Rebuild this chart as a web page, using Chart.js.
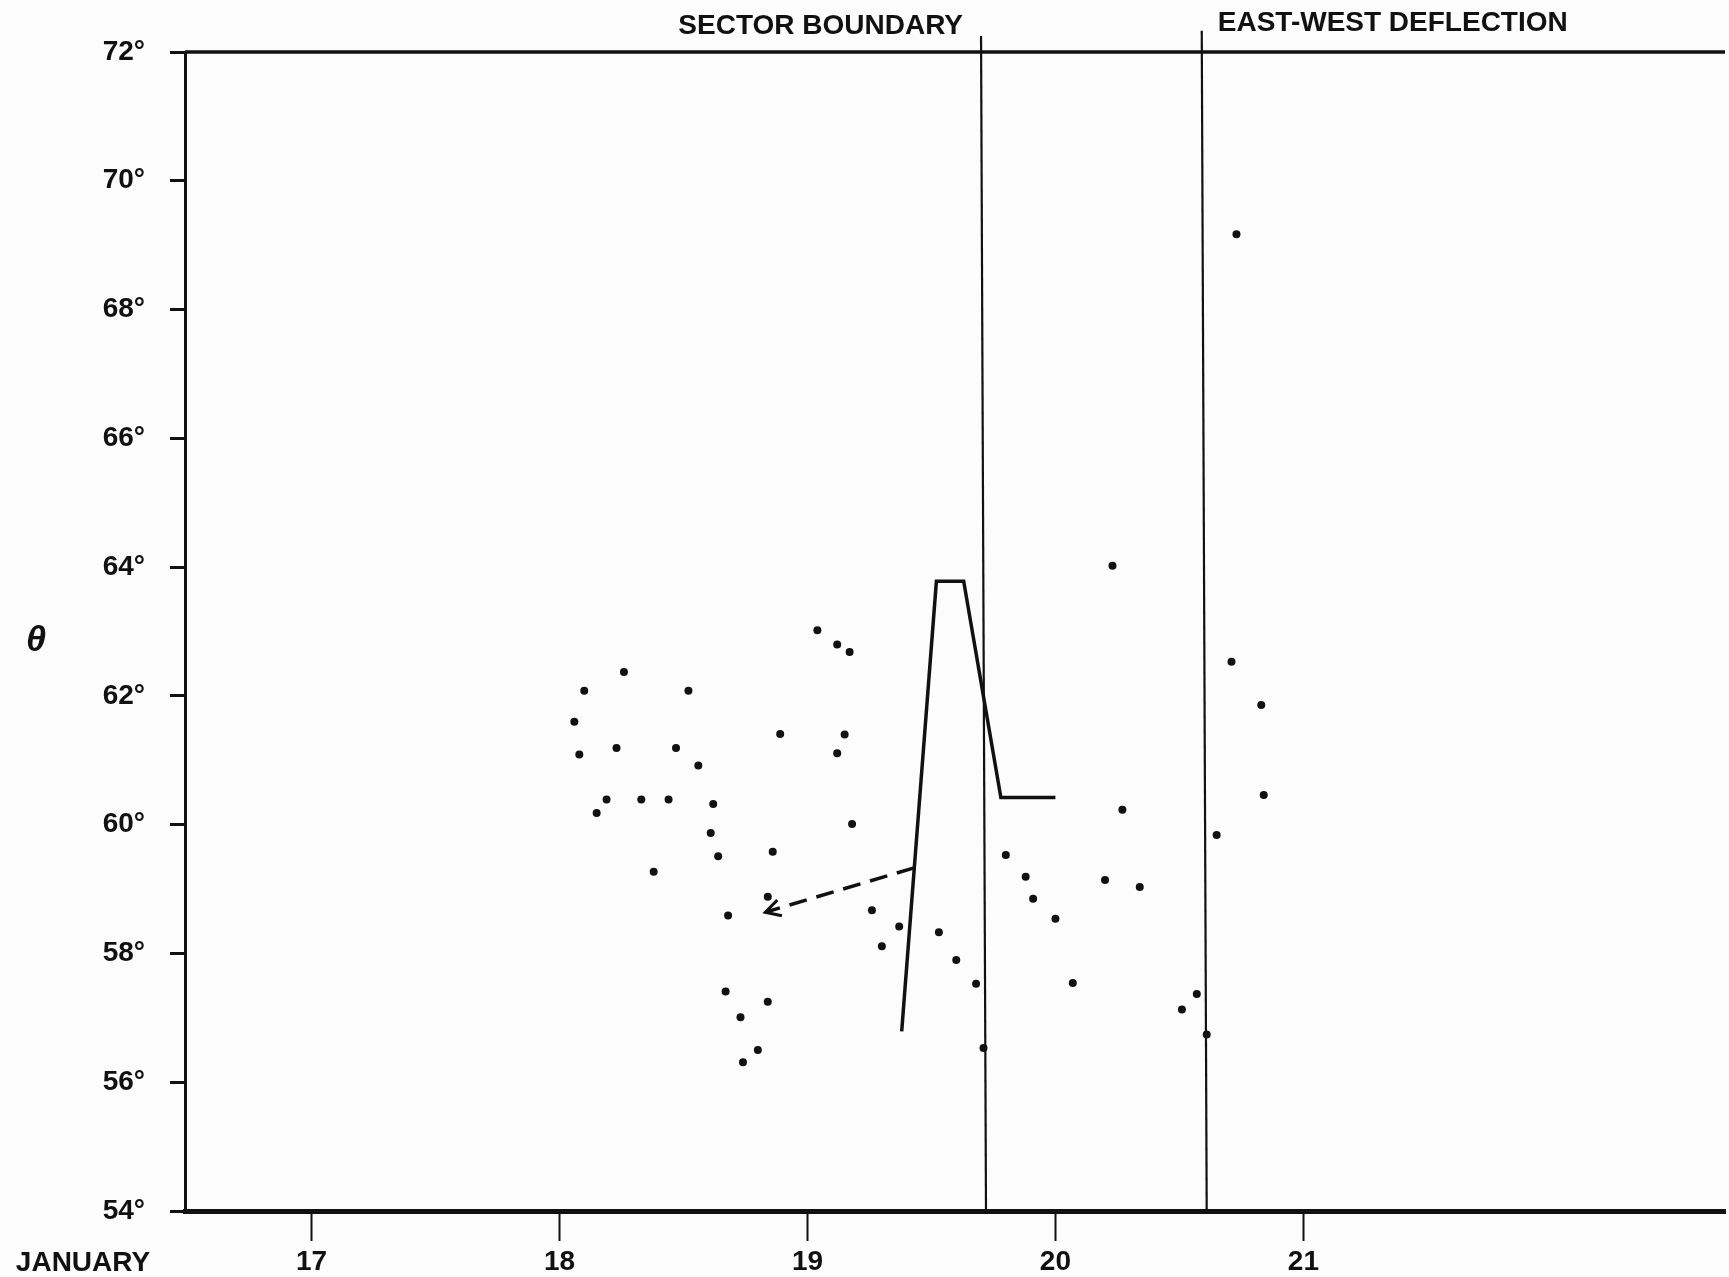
<!DOCTYPE html>
<html>
<head>
<meta charset="utf-8">
<script src="https://cdn.jsdelivr.net/npm/chart.js@4.4.1/dist/chart.umd.min.js"></script>
<style>
  html, body { margin: 0; padding: 0; background: #fcfcfc; }
  canvas { display: block; }
</style>
</head>
<body>
<canvas id="myChart" width="1729" height="1277"></canvas>
<script>
// observed points (day of January, theta in degrees)
const obsDay = [18.06, 18.10, 18.08, 18.26, 18.23, 18.19, 18.15, 18.33, 18.44, 18.47,
  18.52, 18.56, 18.38, 18.62, 18.61, 18.64, 18.68, 18.67, 18.73, 18.80,
  18.74, 18.84, 18.86, 18.84, 18.89, 19.04, 19.12, 19.17, 19.12, 19.15,
  19.18, 19.26, 19.30, 19.37, 19.53, 19.60, 19.68, 19.71, 19.80, 19.88,
  19.91, 20.00, 20.07, 20.20, 20.23, 20.27, 20.34, 20.51, 20.57, 20.61,
  20.65, 20.71, 20.73, 20.83, 20.84];
const obsTheta = [61.60, 62.08, 61.09, 62.37, 61.19, 60.39, 60.18, 60.39, 60.39, 61.19,
  62.08, 60.92, 59.27, 60.32, 59.87, 59.51, 58.59, 57.41, 57.01, 56.50,
  56.31, 57.25, 59.58, 58.88, 61.41, 63.02, 62.80, 62.68, 61.11, 61.40,
  60.01, 58.67, 58.11, 58.42, 58.33, 57.90, 57.53, 56.53, 59.53, 59.19,
  58.85, 58.54, 57.54, 59.14, 64.02, 60.23, 59.03, 57.13, 57.37, 56.74,
  59.84, 62.53, 69.17, 61.86, 60.46];

// solid trace
const traceDay = [19.38, 19.52, 19.63, 19.78, 20.00];
const traceTheta = [56.79, 63.78, 63.78, 60.42, 60.42];

// dashed arrow (start on trace, tip on the left)
const arrowDay = [19.43, 18.83];
const arrowTheta = [59.33, 58.64];

// vertical markers: sector boundary, east-west deflection
const boundaryLabels = ['SECTOR BOUNDARY', 'EAST-WEST DEFLECTION'];
const boundaryTopDay = [19.70, 20.59];
const boundaryBottomDay = [19.72, 20.61];
const boundaryTop = [72.25, 72.33];

const xTicks = [17, 18, 19, 20, 21];
const yTicks = [54, 56, 58, 60, 62, 64, 66, 68, 70, 72];

const ink = '#111';
const fam = "'Liberation Sans', Arial, sans-serif";

const pts = (xs, ys) => xs.map((v, i) => ({ x: v, y: ys[i] }));

const annotate = {
  id: 'annotate',
  afterDraw(chart) {
    const { ctx, chartArea, scales: { x, y } } = chart;
    ctx.save();
    ctx.strokeStyle = ink;
    ctx.fillStyle = ink;

    // top frame line
    ctx.lineWidth = 3.5;
    ctx.beginPath();
    ctx.moveTo(chartArea.left, y.getPixelForValue(72));
    ctx.lineTo(chartArea.right, y.getPixelForValue(72));
    ctx.stroke();

    // arrow head at the end of the dashed line
    const ap = chart.getDatasetMeta(2).data;
    const tip = ap[ap.length - 1], prev = ap[ap.length - 2];
    const ang = Math.atan2(prev.y - tip.y, prev.x - tip.x);
    ctx.lineWidth = 3;
    ctx.setLineDash([]);
    ctx.beginPath();
    ctx.moveTo(tip.x + 17 * Math.cos(ang - 0.5), tip.y + 17 * Math.sin(ang - 0.5));
    ctx.lineTo(tip.x, tip.y);
    ctx.lineTo(tip.x + 17 * Math.cos(ang + 0.5), tip.y + 17 * Math.sin(ang + 0.5));
    ctx.stroke();

    // marker labels
    ctx.font = 'bold 28px ' + fam;
    ctx.textBaseline = 'middle';
    ctx.textAlign = 'right';
    ctx.fillText(boundaryLabels[0], x.getPixelForValue(boundaryTopDay[0]) - 18, chartArea.top - 26);
    ctx.textAlign = 'left';
    ctx.fillText(boundaryLabels[1], x.getPixelForValue(boundaryTopDay[1]) + 16, chartArea.top - 29);

    // month label and theta
    ctx.textAlign = 'center';
    ctx.fillText('JANUARY', 83, x.top + 52);
    ctx.font = 'bold italic 36px ' + fam;
    ctx.fillText('θ', 36, 641);
    ctx.restore();
  }
};

const datasets = [
  {
    type: 'scatter',
    data: pts(obsDay, obsTheta),
    pointRadius: 4,
    pointBackgroundColor: ink,
    pointBorderWidth: 0
  },
  {
    type: 'line',
    data: pts(traceDay, traceTheta),
    borderColor: ink,
    borderWidth: 3.5,
    pointRadius: 0,
    tension: 0
  },
  {
    type: 'line',
    data: pts(arrowDay, arrowTheta),
    borderColor: ink,
    borderWidth: 3.5,
    borderDash: [18, 10],
    pointRadius: 0
  }
];
boundaryTopDay.forEach((d, i) => {
  datasets.push({
    type: 'line',
    data: [{ x: d, y: boundaryTop[i] }, { x: boundaryBottomDay[i], y: 54 }],
    borderColor: ink,
    borderWidth: 2.2,
    pointRadius: 0,
    clip: false
  });
});

new Chart(document.getElementById('myChart'), {
  data: { datasets },
  options: {
    responsive: false,
    animation: false,
    devicePixelRatio: 1,
    layout: { padding: { top: 52, right: 0, bottom: 0, left: 0 } },
    plugins: { legend: { display: false }, tooltip: { enabled: false } },
    scales: {
      x: {
        type: 'linear',
        min: 16.49,
        max: 22.7,
        afterBuildTicks: s => { s.ticks = xTicks.map(v => ({ value: v })); },
        afterFit: s => { s.height = 66; },
        ticks: { color: ink, font: { family: fam, size: 28, weight: 'bold' }, padding: 4, autoSkip: false, maxRotation: 0 },
        grid: { drawOnChartArea: false, tickLength: 30, tickWidth: 2, tickColor: ink },
        border: { display: true, width: 5, color: ink }
      },
      y: {
        type: 'linear',
        min: 54,
        max: 72,
        afterBuildTicks: s => { s.ticks = yTicks.map(v => ({ value: v })); },
        afterFit: s => { s.width = 185; },
        ticks: { color: ink, font: { family: fam, size: 28, weight: 'bold' }, padding: 25, callback: v => v + '°' },
        grid: { drawOnChartArea: false, tickLength: 15, tickWidth: 3, tickColor: ink },
        border: { display: true, width: 3, color: ink }
      }
    }
  },
  plugins: [annotate]
});
</script>
</body>
</html>
